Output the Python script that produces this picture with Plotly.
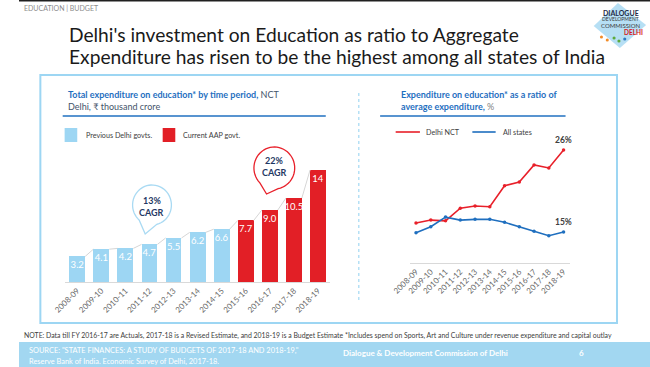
import numpy as np
import plotly.graph_objects as go

# ---------------- data ----------------
years = ["2008-09", "2009-10", "2010-11", "2011-12", "2012-13", "2013-14",
         "2014-15", "2015-16", "2016-17", "2017-18", "2018-19"]
spend = [3.2, 4.1, 4.2, 4.7, 5.5, 6.2, 6.6, 7.7, 9.0, 10.5, 14]
spend_labels = ["3.2", "4.1", "4.2", "4.7", "5.5", "6.2", "6.6", "7.7", "9.0", "10.5", "14"]
aap_first_year = "2015-16"
delhi_ratio = [16.2, 16.6, 16.5, 18.2, 18.5, 18.4, 21.2, 21.7, 24.0, 23.6, 26.0]
states_ratio = [14.9, 15.7, 17.0, 16.6, 16.7, 16.7, 16.3, 15.7, 15.1, 14.5, 15.0]
delhi_end_label = "26%"
states_end_label = "15%"
cagr_prev = "13%"
cagr_aap = "22%"

# ---------------- helpers ----------------
W, H = 650, 367
FONT = "Lato"
LIGHT_BLUE = "#9DD6F3"
RED = "#E21F26"
BLUE_T = "#1F6FBF"
NAVY = "#1F3864"
SLATE = "#44546A"


def X(p):
    return p / W


def Y(p):
    return 1 - p / H


idx = list(range(len(years)))
aap_i = years.index(aap_first_year)
bar_colors = [LIGHT_BLUE if i < aap_i else RED for i in idx]
BW = 0.66

# connector segments between bar tops
cx, cy = [], []
for i in range(len(spend) - 1):
    cx += [i + BW / 2, i + 1 - BW / 2, None]
    cy += [spend[i], spend[i + 1], None]

fig = go.Figure()
fig.add_trace(go.Scatter(x=cx, y=cy, mode="lines", line=dict(color="#D6D6D6", width=1),
                         hoverinfo="skip", showlegend=False, xaxis="x", yaxis="y"))
fig.add_trace(go.Bar(x=idx, y=spend, width=BW, marker=dict(color=bar_colors, line=dict(width=0)),
                     text=spend_labels, textposition="inside", insidetextanchor="end",
                     textangle=0, constraintext="none",
                     textfont=dict(family=FONT, size=9.5, color="white"),
                     showlegend=False, xaxis="x", yaxis="y"))
fig.add_trace(go.Scatter(x=idx, y=delhi_ratio, mode="lines+markers",
                         line=dict(color="#E8202A", width=1.6), marker=dict(size=3.5, color="#E8202A"),
                         showlegend=False, xaxis="x2", yaxis="y2"))
fig.add_trace(go.Scatter(x=idx, y=states_ratio, mode="lines+markers",
                         line=dict(color="#1F6FBF", width=1.6), marker=dict(size=3.5, color="#1F6FBF"),
                         showlegend=False, xaxis="x2", yaxis="y2"))

tickfont = dict(family=FONT, size=8, color="#6A6A6A")
fig.update_layout(
    width=W, height=H, autosize=False,
    margin=dict(l=0, r=0, t=0, b=0),
    paper_bgcolor="white", plot_bgcolor="rgba(0,0,0,0)",
    bargap=0,
    xaxis=dict(domain=[X(47.6), X(320.4)], range=[-0.5, 10.5], tickmode="array",
               tickvals=idx, ticktext=years, tickangle=-45, tickfont=tickfont,
               showline=True, linecolor="#D9D9D9", linewidth=1, showgrid=False,
               zeroline=False, ticks="", fixedrange=True),
    yaxis=dict(domain=[Y(282), Y(170)], range=[0, 14], visible=False, fixedrange=True),
    xaxis2=dict(domain=[X(402.9), X(567.8)], range=[-0.4, 10.45], tickmode="array",
                tickvals=idx, ticktext=years, tickangle=-45, tickfont=tickfont,
                showline=True, linecolor="#D9D9D9", linewidth=1, showgrid=False,
                zeroline=False, ticks="", anchor="y2", fixedrange=True),
    yaxis2=dict(domain=[Y(263), Y(140)], range=[10.84, 27.35], visible=False,
                anchor="x2", fixedrange=True),
)

shapes = []
annos = []


def rect(x0, y0, x1, y1, fill=None, line=None, lw=0, layer="below"):
    shapes.append(dict(type="rect", xref="paper", yref="paper", x0=X(x0), x1=X(x1),
                       y0=Y(y1), y1=Y(y0), fillcolor=fill or "rgba(0,0,0,0)",
                       line=dict(color=line or "rgba(0,0,0,0)", width=lw), layer=layer))


def hline(x0, x1, y, color, w=1.5, dash="solid"):
    shapes.append(dict(type="line", xref="paper", yref="paper", x0=X(x0), x1=X(x1),
                       y0=Y(y), y1=Y(y), line=dict(color=color, width=w, dash=dash)))


def text(x, y, s, size, color="#404040", xanchor="left", bold=False, fam=FONT):
    if bold:
        s = "<b>" + s + "</b>"
    annos.append(dict(x=X(x), y=Y(y), xref="paper", yref="paper", text=s, showarrow=False,
                      xanchor=xanchor, yanchor="middle",
                      font=dict(family=fam, size=size, color=color)))


def bubble(cx0, cy0, r, tx, ty, color, gap=28):
    th = np.degrees(np.arctan2(ty - cy0, tx - cx0))
    angs = np.radians(np.linspace(th + gap, th + 360 - gap, 48))
    pts = [(cx0 + r * np.cos(a), cy0 + r * np.sin(a)) for a in angs]
    d = "M " + " L ".join(f"{X(px):.5f},{Y(py):.5f}" for px, py in pts)
    d += f" L {X(tx):.5f},{Y(ty):.5f} Z"
    shapes.append(dict(type="path", xref="paper", yref="paper", path=d,
                       fillcolor="white", line=dict(color=color, width=1.3), layer="above"))


# top dark line
rect(0, 0, 650, 1.5, fill="#202020")
# header
text(3, 8, "EDUCATION | BUDGET", 7, color="#8C8C8C")
# title
text(49, 34, "Delhi's investment on Education as ratio to Aggregate", 19.2, color="#1A1A1A")
text(49, 56, "Expenditure has risen to be the highest among all states of India", 19.2, color="#1A1A1A")

# logo
shapes.append(dict(type="path", xref="paper", yref="paper",
                   path=f"M {X(617)},{Y(3)} L {X(646)},{Y(25)} L {X(619)},{Y(48)} L {X(592)},{Y(26)} Z",
                   fillcolor="#A9D9F2", line=dict(width=0), opacity=0.85, layer="below"))
text(620, 13, "DIALOGUE", 7, color="#1F2A44", xanchor="center", bold=True)
text(620, 19.5, "DEVELOPMENT", 5, color="#3A3A3A", xanchor="center")
text(620, 25.5, "COMMISSION", 6, color="#3A3A3A", xanchor="center")
text(633, 32.5, "DELHI", 6.5, color="#D7191C", xanchor="center", bold=True)
for (px, py, c) in [(600, 37, "#F28C28"), (606, 40, "#F28C28"), (613, 38, "#5DAA3C"),
                    (618, 41, "#5DAA3C"), (624, 39, "#2E7BC4")]:
    shapes.append(dict(type="circle", xref="paper", yref="paper", x0=X(px - 1.6), x1=X(px + 1.6),
                       y0=Y(py + 1.6), y1=Y(py - 1.6), fillcolor=c, line=dict(width=0)))

# main box and separator
rect(22, 75, 616, 323, line="#9DD6F3", lw=2)
shapes.append(dict(type="line", xref="paper", yref="paper", x0=X(350), x1=X(350),
                   y0=Y(93), y1=Y(303), line=dict(color="#B5E0F5", width=1.5, dash="dot")))

# left panel title
text(48, 95, "<b>Total expenditure on education* by time period,</b>"
     f"<span style='color:{SLATE}'> NCT</span>", 9, color=BLUE_T)
text(48, 107, "Delhi, ₹ thousand crore", 9, color=SLATE)
hline(45, 316, 116, "#2070C0", 1.5)
# left legend
rect(47, 128, 60, 142, fill=LIGHT_BLUE)
text(67, 135, "Previous Delhi govts.", 7.2, color="#404040")
rect(148, 128, 161, 142, fill=RED)
text(167, 135, "Current AAP govt.", 7.2, color="#404040")

# CAGR bubbles
bubble(137, 205, 20, 130, 234, "#A9DAF3")
text(137, 200, cagr_prev, 9, color=NAVY, xanchor="center", bold=True)
text(137, 212, "CAGR", 9, color=NAVY, xanchor="center", bold=True)
bubble(263, 168, 21, 255, 194, "#E8202A")
text(263, 160, cagr_aap, 9, color=NAVY, xanchor="center", bold=True)
text(263, 172, "CAGR", 9, color=NAVY, xanchor="center", bold=True)

# right panel title
text(391, 95, "Expenditure on education* as a ratio of", 9, color=BLUE_T, bold=True)
text(391, 107, "<b>average expenditure,</b> <span style='color:#7F7F7F'>%</span>", 9, color=BLUE_T)
hline(372, 563, 116, "#2070C0", 1.5)
# right legend
hline(388, 413, 132, "#E8202A", 1.6)
text(417, 132, "Delhi NCT", 7.2, color="#404040")
hline(467, 491, 132, "#1F6FBF", 1.6)
text(497, 132, "All states", 7.2, color="#404040")

# end labels (data anchored)
annos.append(dict(x=idx[-1], y=delhi_ratio[-1], xref="x2", yref="y2", text=f"<b>{delhi_end_label}</b>",
                  showarrow=False, yshift=10, font=dict(family=FONT, size=8.5, color="#404040")))
annos.append(dict(x=idx[-1], y=states_ratio[-1], xref="x2", yref="y2", text=f"<b>{states_end_label}</b>",
                  showarrow=False, yshift=10, font=dict(family=FONT, size=8.5, color="#404040")))

# note
text(3, 335, "NOTE: Data till FY 2016-17 are Actuals, 2017-18 is a Revised Estimate, and 2018-19 is a "
     "Budget Estimate *Includes spend on Sports, Art and Culture under revenue expenditure and capital outlay",
     6.9, color="#404040")
# footer band
rect(0, 342, 650, 367, fill="#A2D7F1")
text(8, 350, 'SOURCE: "STATE FINANCES: A STUDY OF BUDGETS OF 2017-18 AND 2018-19,"', 7.4, color="white")
text(8, 361, "Reserve Bank of India. Economic Survey of Delhi, 2017-18.", 7.4, color="white")
text(332, 353, "Dialogue & Development Commission of Delhi", 8, color="white", bold=True)
text(575, 353, "6", 8, color="white", bold=True)

fig.update_layout(shapes=shapes, annotations=annos)

fig.write_html("out.html", include_plotlyjs=True, config={"displayModeBar": False, "staticPlot": True},
               post_script="document.body.style.margin='0px';document.body.style.overflow='hidden';")
